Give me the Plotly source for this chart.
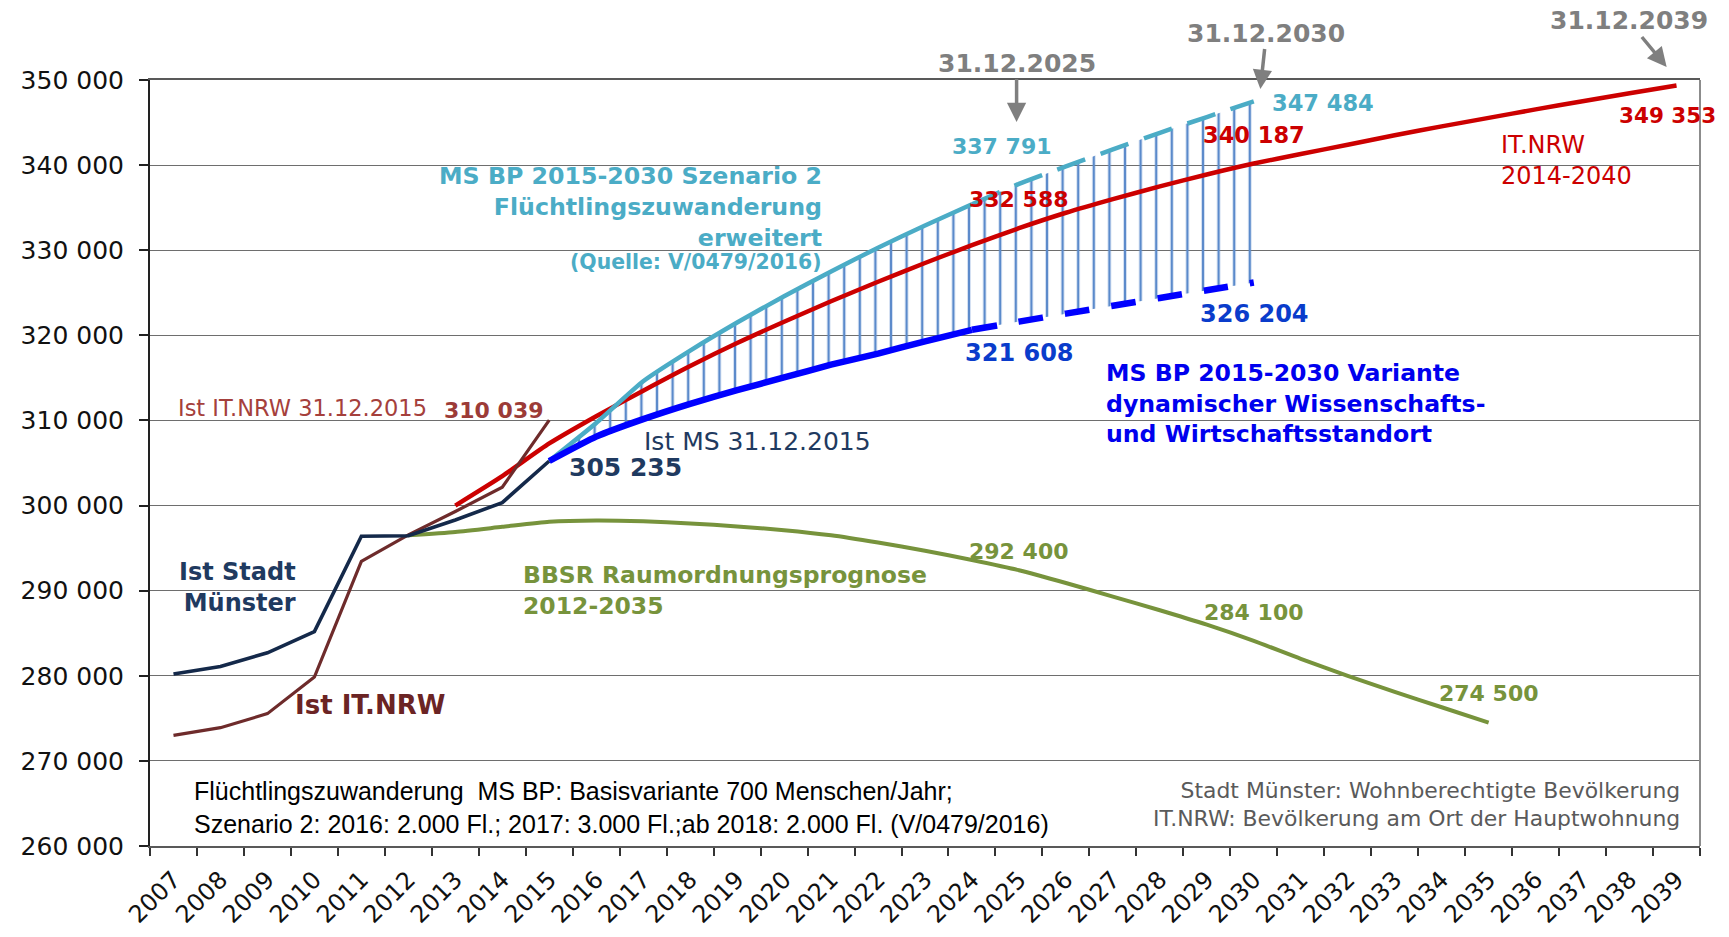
import plotly.graph_objects as go

# ---------------- data ----------------
years = list(range(2007, 2040))
year_labels = [str(y) for y in years]

ist_years = list(range(2007, 2016))
ist_stadt = [280200, 281100, 282700, 285200, 296400, 296450, 298300, 300350, 305235]
ist_itnrw = [273000, 273900, 275550, 279850, 293450, 296550, 299300, 302150, 310039]

itnrw_years = list(range(2013, 2040))
itnrw_proj = [300000, 303450, 307300, 310500, 313500, 316400, 319100, 321600, 324000,
              326300, 328500, 330600, 332588, 334400, 336000, 337500, 338900, 340187,
              341300, 342400, 343500, 344550, 345550, 346550, 347500, 348450, 349353]

bbsr_years = list(range(2012, 2036))
bbsr = [296500, 296900, 297500, 298100, 298250, 298150, 297900, 297550, 297100, 296500,
        295650, 294700, 293600, 292400, 290900, 289300, 287700, 286000, 284100, 282000,
        280000, 278100, 276300, 274500]

ms_years = list(range(2015, 2031))
szenario2 = [305235, 309700, 314600, 318200, 321500, 324600, 327500, 330300, 332900,
             335400, 337791, 339850, 341850, 343800, 345650, 347484]
variante = [305235, 308100, 310150, 311950, 313550, 315050, 316550, 317850, 319300,
            320650, 321608, 322550, 323470, 324390, 325300, 326204]
dash_from = 2024  # projection drawn dashed from this year on

y_min, y_max = 260000, 350000
y_ticks = list(range(y_min, y_max + 1, 10000))
y_ticktext = [f"{v:,}".replace(",", " ") for v in y_ticks]

# ---------------- colours ----------------
NAVY_LINE = "#14294A"
NAVY_TXT = "#1F3A60"
BROWN = "#6E2B2B"
BROWN_TXT = "#A5403C"
RED = "#CC0000"
CYAN = "#4BACC6"
BLUE = "#0000FF"
BLUE_TXT = "#0A3CCB"
GREEN = "#77933C"
GRAY = "#7F7F7F"
HATCH = "#5B8ACB"

FONT = "DejaVu Sans"

fig = go.Figure()

# hatched band between Variante and Szenario 2
fig.add_trace(go.Scatter(x=ms_years, y=variante, mode="lines",
                         line=dict(width=0, shape="spline", smoothing=0.5),
                         hoverinfo="skip"))
fig.add_trace(go.Scatter(x=ms_years, y=szenario2, mode="lines",
                         line=dict(width=0, shape="spline", smoothing=0.5),
                         fill="tonexty", fillcolor="rgba(0,0,0,0)",
                         fillpattern=dict(shape="|", size=15.6, solidity=0.16,
                                          fgcolor=HATCH, fgopacity=1,
                                          bgcolor="rgba(0,0,0,0)"),
                         hoverinfo="skip"))

# BBSR
fig.add_trace(go.Scatter(x=bbsr_years, y=bbsr, mode="lines",
                         line=dict(color=GREEN, width=4, shape="spline", smoothing=0.6)))
# IT.NRW projection
fig.add_trace(go.Scatter(x=itnrw_years, y=itnrw_proj, mode="lines",
                         line=dict(color=RED, width=4.5, shape="spline", smoothing=0.6)))
# Ist IT.NRW
fig.add_trace(go.Scatter(x=ist_years, y=ist_itnrw, mode="lines",
                         line=dict(color=BROWN, width=3.2)))
# Ist Stadt Münster
fig.add_trace(go.Scatter(x=ist_years, y=ist_stadt, mode="lines",
                         line=dict(color=NAVY_LINE, width=3.6)))

# Szenario 2 (solid, then dashed)
i_d = ms_years.index(dash_from)
fig.add_trace(go.Scatter(x=ms_years[:i_d + 1], y=szenario2[:i_d + 1], mode="lines",
                         line=dict(color=CYAN, width=4.5, shape="spline", smoothing=0.5)))
fig.add_trace(go.Scatter(x=ms_years[i_d:], y=szenario2[i_d:], mode="lines",
                         line=dict(color=CYAN, width=4.5, dash="30px,16px",
                                   shape="spline", smoothing=0.5)))
# Variante (solid, then dashed)
fig.add_trace(go.Scatter(x=ms_years[:i_d + 1], y=variante[:i_d + 1], mode="lines",
                         line=dict(color=BLUE, width=6.5, shape="spline", smoothing=0.5)))
fig.add_trace(go.Scatter(x=ms_years[i_d:], y=variante[i_d:], mode="lines",
                         line=dict(color=BLUE, width=6.5, dash="25px,22px",
                                   shape="spline", smoothing=0.5)))


def label(text, x, y, color, size, bold=True, xanchor="center", align="center",
          family=FONT):
    t = f"<b>{text}</b>" if bold else text
    fig.add_annotation(x=x, y=y, xref="x", yref="y", text=t, showarrow=False,
                       xanchor=xanchor, yanchor="middle", align=align,
                       font=dict(family=family, size=size, color=color))


def date_arrow(text, x, y, ax, ay):
    # y given in data units; converted to paper units so heads above the range still show
    yp = (y - y_min) / (y_max - y_min)
    fig.add_annotation(x=x, y=yp, xref="x", yref="paper", text=f"<b>{text}</b>",
                       showarrow=True, ax=ax, ay=ay, arrowhead=2, arrowsize=1.1,
                       arrowwidth=3.5, arrowcolor=GRAY, standoff=0, startstandoff=0,
                       font=dict(family=FONT, size=25, color=GRAY))


date_arrow("31.12.2025", 2024.95, 345065, 0, -59)
date_arrow("31.12.2030", 2030.14, 348942, 6, -56)
date_arrow("31.12.2039", 2038.79, 351528, -38, -46)

label("337 791", 2024.63, 342160, CYAN, 22)
label("332 588", 2025.01, 335940, RED, 22)
label("340 187", 2030.01, 343590, RED, 22.5)
label("347 484", 2031.48, 347340, CYAN, 22.5)
label("349 353", 2038.81, 345790, RED, 21.5)
label("IT.NRW<br>2014-2040", 2035.22, 340550, RED, 24, bold=False,
      xanchor="left", align="left")
label("326 204", 2030.01, 322460, BLUE_TXT, 24)
label("321 608", 2025.01, 317920, BLUE_TXT, 24)
label("MS BP 2015-2030 Variante<br>dynamischer Wissenschafts-<br>und Wirtschaftsstandort",
      2026.81, 311965, "#0000EE", 23.6, xanchor="left", align="left")
label("Ist MS 31.12.2015", 2016.97, 307570, NAVY_TXT, 25, bold=False, xanchor="left")
label("305 235", 2016.62, 304450, NAVY_TXT, 25)
label("Ist IT.NRW 31.12.2015", 2007.06, 311450, BROWN_TXT, 22.5, bold=False, xanchor="left")
label("310 039", 2013.83, 311210, "#9C3B37", 22)
label("Ist Stadt<br>Münster", 2009.65, 290350, NAVY_TXT, 24, xanchor="right", align="right")
label("Ist IT.NRW", 2011.18, 276600, "#6B2424", 26)
label("BBSR Raumordnungsprognose<br>2012-2035", 2014.39, 290000, GREEN, 23.5,
      xanchor="left", align="left")
label("292 400", 2025.01, 294580, GREEN, 22)
label("284 100", 2030.01, 287470, GREEN, 22)
label("274 500", 2035.01, 277880, GREEN, 22)
label("MS BP 2015-2030 Szenario 2<br>Flüchtlingszuwanderung<br>erweitert",
      2020.85, 335100, CYAN, 23.7, xanchor="right", align="right")
label("(Quelle: V/0479/2016)", 2020.85, 328560, CYAN, 20.4, xanchor="right", align="right")

label("Flüchtlingszuwanderung \u00a0MS BP: Basisvariante 700 Menschen/Jahr;<br>"
      "Szenario 2: 2016: 2.000 Fl.; 2017: 3.000 Fl.;ab 2018: 2.000 Fl. (V/0479/2016)",
      2007.39, 264470, "#000000", 25, bold=False, xanchor="left", align="left",
      family="Liberation Sans")
label("Stadt Münster: Wohnberechtigte Bevölkerung<br>"
      "IT.NRW: Bevölkerung am Ort der Hauptwohnung",
      2039.12, 264860, "#5A5A5A", 21.9, bold=False, xanchor="right", align="right")

# right border of plot area
fig.add_shape(type="line", xref="paper", yref="paper", x0=1, x1=1, y0=0, y1=1,
              line=dict(color="#8C8C8C", width=2))

fig.update_layout(
    width=1729, height=937,
    margin=dict(l=150, r=29, t=80, b=91),
    plot_bgcolor="white", paper_bgcolor="white",
    showlegend=False,
    font=dict(family=FONT, color="#000000"),
    xaxis=dict(
        range=[2006.5, 2039.5], tickmode="array", tickvals=years, ticktext=year_labels,
        tickangle=-45, tickfont=dict(size=24, color="#111111"), ticks="",
        ticklabelstandoff=8,
        showgrid=False, zeroline=False, showline=True, linecolor="#595959",
        linewidth=2, mirror=True, automargin=False,
        minor=dict(tickmode="array", tickvals=[y - 0.5 for y in years] + [2039.5],
                   ticks="outside", ticklen=8, tickwidth=1.5, tickcolor="#333333",
                   showgrid=False),
    ),
    yaxis=dict(
        range=[y_min, y_max], tickmode="array", tickvals=y_ticks, ticktext=y_ticktext,
        ticks="outside", ticklen=9, tickwidth=1.5, tickcolor="#222222",
        tickfont=dict(size=25, color="#111111"), ticklabelstandoff=10,
        showgrid=True, gridcolor="#6E6E6E", gridwidth=1.3,
        zeroline=False, showline=True, linecolor="#222222", linewidth=2,
        automargin=False,
    ),
)

fig.write_html("out.html", config={"displayModeBar": False},
               post_script="document.body.style.margin='0';document.body.style.overflow='hidden';")
